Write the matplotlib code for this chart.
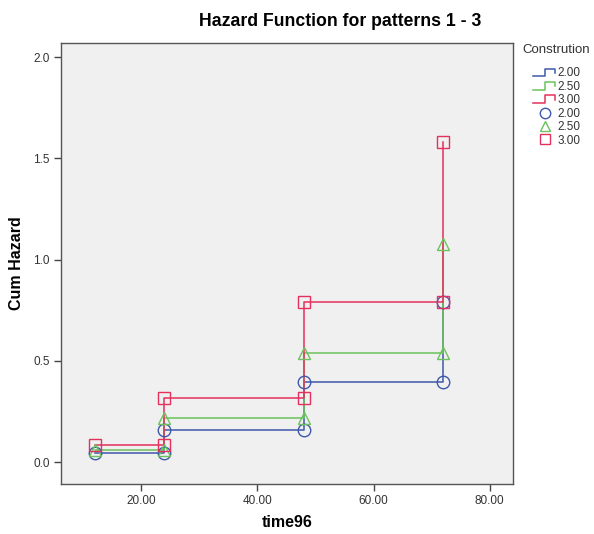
import matplotlib
matplotlib.use("Agg")
import matplotlib.pyplot as plt
from matplotlib.lines import Line2D
from matplotlib.legend_handler import HandlerBase

plt.rcParams['font.family'] = ['Liberation Sans', 'DejaVu Sans']

times = [12, 24, 48, 72]
groups = ["2.00", "2.50", "3.00"]
haz_200 = [0.044, 0.158, 0.396, 0.79]
haz_250 = [0.059, 0.217, 0.538, 1.077]
haz_300 = [0.084, 0.315, 0.79, 1.583]
series = [haz_200, haz_250, haz_300]
colors = ["#3E58AC", "#6BC25C", "#E3305C"]
markers = ["o", "^", "s"]
msizes = [9, 8, 9]

fig = plt.figure(figsize=(5.94, 5.34), dpi=100)
ax = fig.add_axes([61/594, 1-484/534, (513-61)/594, (484-43)/534])
ax.set_facecolor("#F0F0F0")

for vals, c in zip(series, colors):
    xs, ys = [], []
    for i, (t, v) in enumerate(zip(times, vals)):
        if i == 0:
            xs.append(t); ys.append(v)
        else:
            xs += [t, t]; ys += [vals[i-1], v]
    ax.plot(xs, ys, color=c, lw=1.1, zorder=2)

for vals, c, m, ms in zip(series, colors, markers, msizes):
    xs, ys = [], []
    for i, (t, v) in enumerate(zip(times, vals)):
        if i > 0:
            xs.append(t); ys.append(vals[i-1])
        xs.append(t); ys.append(v)
    ax.plot(xs, ys, ls="none", marker=m, ms=ms, mfc="none", mec=c, mew=1.0, zorder=3)

ax.set_xlim(6.2, 84)
ax.set_ylim(-0.108, 2.07)
ax.set_xticks([20, 40, 60, 80])
ax.set_xticklabels(["20.00", "40.00", "60.00", "80.00"])
ax.set_yticks([0, 0.5, 1.0, 1.5, 2.0])
ax.set_yticklabels(["0.0", "0.5", "1.0", "1.5", "2.0"])
ax.tick_params(direction="out", length=5, width=1, colors="#444444", labelsize=8.5, labelcolor="#333333", pad=3)
for s in ax.spines.values():
    s.set_color("#555555"); s.set_linewidth(1.0)

ax.set_xlabel("time96", fontsize=11.5, fontweight="bold", labelpad=6)
ax.set_ylabel("Cum Hazard", fontsize=11.5, fontweight="bold", labelpad=7)
fig.text(340/594, 1-21/534, "Hazard Function for patterns 1 - 3", ha="center", va="center",
         fontsize=12.7, fontweight="bold")


class StepHandler(HandlerBase):
    def create_artists(self, legend, orig_handle, xdescent, ydescent, width, height, fontsize, trans):
        x0 = -xdescent
        y0 = -ydescent
        xs = [x0, x0 + width*0.5, x0 + width*0.5, x0 + width*0.92, x0 + width*0.92]
        ys = [y0 + height*0.05, y0 + height*0.05, y0 + height*0.95, y0 + height*0.95, y0 + height*0.45]
        ln = Line2D(xs, ys, color=orig_handle.get_color(), lw=1.1, transform=trans)
        return [ln]


handles, labels, hmap = [], [], {}
for g, c in zip(groups, colors):
    h = Line2D([], [], color=c)
    handles.append(h); labels.append(g); hmap[h] = StepHandler()
for g, c, m in zip(groups, colors, markers):
    h = Line2D([], [], ls="none", marker=m, ms=7.5, mfc="none", mec=c, mew=1.0)
    handles.append(h); labels.append(g)

fig.text(522/594, 1-50/534, "Constrution", ha="left", va="center", fontsize=9.5, color="#333333")
leg = fig.legend(handles, labels, handler_map=hmap, loc="upper left",
                 bbox_to_anchor=(533/594, 1-67.5/534), frameon=False, fontsize=8.5,
                 handlelength=2.0, handleheight=0.7, handletextpad=0.1, labelspacing=0.12,
                 borderpad=0, borderaxespad=0)
for t in leg.get_texts():
    t.set_color("#333333")

fig.savefig("out.png", dpi=100, facecolor="white")
